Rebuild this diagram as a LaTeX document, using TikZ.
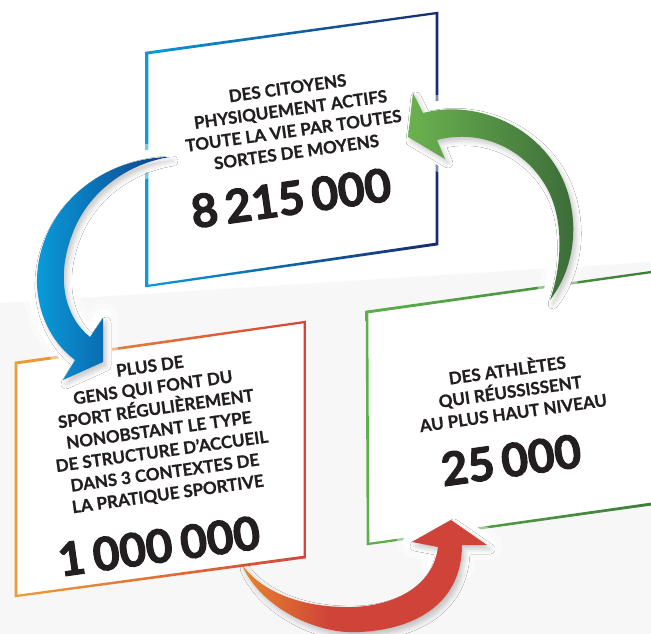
\documentclass[tikz,border=0pt]{standalone}
\usepackage{fontspec}
\setmainfont{Lato}[BoldFeatures={FakeBold=0.8}]
\newfontfamily\numfont{Lato}[BoldFeatures={FakeBold=2.4}]
\usetikzlibrary{calc,shadows.blur}

\definecolor{citblue}{HTML}{0B9AD8}
\definecolor{citnavy}{HTML}{172A6E}
\definecolor{arrblue}{HTML}{0A9CDA}
\definecolor{arrnavy}{HTML}{0B3D88}
\definecolor{sporange}{HTML}{EE9C35}
\definecolor{spred}{HTML}{D4443B}
\definecolor{arrorange}{HTML}{E5842C}
\definecolor{arrred}{HTML}{CF4339}
\definecolor{athgreen}{HTML}{5CB14A}
\definecolor{athdark}{HTML}{3C7839}
\definecolor{arrgreen}{HTML}{6BB24F}
\definecolor{arrdark}{HTML}{3A6A38}
\definecolor{inktext}{HTML}{231F20}
\definecolor{floorgray}{HTML}{F7F7F7}

\pgfdeclarehorizontalshading{redsweep}{100bp}{color(0bp)=(arrorange); color(25bp)=(arrorange); color(43bp)=(arrred); color(100bp)=(arrred)}

% frame of a slanted box, filled as a ring so it can take a gradient
\newcommand\framering[3]{%
  \shade[left color=#2, right color=#3, even odd rule]
    ($(#1-tl)+(-1.3,-1.3)$) -- ($(#1-tr)+(1.3,-1.3)$) -- ($(#1-br)+(1.3,1.3)$) -- ($(#1-bl)+(-1.3,1.3)$) -- cycle
    ($(#1-tl)+(1.3,1.3)$) -- ($(#1-tr)+(-1.3,1.3)$) -- ($(#1-br)+(-1.3,-1.3)$) -- ($(#1-bl)+(1.3,-1.3)$) -- cycle;}

% arrow outlines
\def\bluepath{(170,157) .. controls (95,158) and (35,215) .. (37,285) .. controls (39,320) and (55,345) .. (75,360) -- (63,380) -- (103,362) -- (103,318) -- (90,337) .. controls (66,318) and (55,280) .. (72,235) .. controls (88,190) and (130,163) .. (170,157) -- cycle}
\def\greenpath{(423,113) .. controls (480,98) and (547,130) .. (567,190) .. controls (580,230) and (572,272) .. (550,300) .. controls (562,265) and (564,222) .. (548,190) .. controls (527,150) and (482,128) .. (437,140) -- (445,159) -- (408,137) -- (413,93) -- cycle}
\def\redpath{(242,565) .. controls (262,610) and (320,635) .. (360,632) .. controls (420,629) and (462,600) .. (462,545) -- (487,545) -- (451,520) -- (412,542) -- (438,547) .. controls (433,588) and (392,606) .. (352,607) .. controls (302,608) and (262,592) .. (242,565) -- cycle}
\def\redhead{(462,545) -- (487,545) -- (451,520) -- (412,542) -- (438,547) -- (436,565) -- (460,565) -- cycle}

\tikzset{
  boxtext/.style={font=\bfseries\fontsize{17}{21.5}\selectfont, text=inktext, align=center, rotate=8, inner sep=0pt},
  bignum/.style={font=\numfont\bfseries\fontsize{46}{46}\selectfont, text=inktext, rotate=8, inner sep=0pt},
  haloouter/.style={draw=white, fill=white, line width=30pt, opacity=0.45, line join=round},
  haloinner/.style={draw=white, fill=white, line width=18pt, line join=round},
  arrowshadow/.style={blur shadow={shadow xshift=3pt, shadow yshift=-4pt, shadow blur radius=5pt, shadow opacity=22}},
}

\begin{document}
\begin{tikzpicture}[x=1pt, y=-1pt]
  \useasboundingbox (0,0) rectangle (651,634);
  \clip (0,0) rectangle (651,634);
  % background
  \fill[white] (0,0) rectangle (651,634);
  \fill[floorgray] (0,303) -- (651,262) -- (651,634) -- (0,634) -- cycle;

  % box corners
  \coordinate (cit-tl) at (147,53);
  \coordinate (cit-tr) at (437,13);
  \coordinate (cit-br) at (437,244);
  \coordinate (cit-bl) at (147,286);
  \coordinate (spo-tl) at (16,363);
  \coordinate (spo-tr) at (305,322);
  \coordinate (spo-br) at (305,557);
  \coordinate (spo-bl) at (16,596);
  \coordinate (ath-tl) at (367,312);
  \coordinate (ath-tr) at (680,268);
  \coordinate (ath-br) at (680,500);
  \coordinate (ath-bl) at (368,544);

  % box faces and frames
  \fill[white] (cit-tl) -- (cit-tr) -- (cit-br) -- (cit-bl) -- cycle;
  \fill[white] (spo-tl) -- (spo-tr) -- (spo-br) -- (spo-bl) -- cycle;
  \fill[white] (ath-tl) -- (ath-tr) -- (ath-br) -- (ath-bl) -- cycle;
  \framering{cit}{citblue}{citnavy}
  \framering{spo}{sporange}{spred}
  \framering{ath}{athgreen}{athdark}

  % white halo where the arrows cross the frames
  \path[haloouter] \bluepath;
  \path[haloouter] \greenpath;
  \path[haloouter] \redhead;
  \path[haloinner] \bluepath;
  \path[haloinner] \greenpath;
  \path[haloinner] \redhead;

  % arrows
  \shade[arrowshadow, left color=arrblue, right color=arrnavy] \bluepath;
  \shade[arrowshadow, left color=arrgreen, right color=arrdark] \greenpath;
  \shade[arrowshadow, shading=redsweep] \redpath;

  % texts
  \node[boxtext] (cit-text) at (292,120) {DES CITOYENS\\PHYSIQUEMENT ACTIFS\\TOUTE LA VIE PAR TOUTES\\SORTES DE MOYENS};
  \node[bignum] (cit-num) at (291,198) {8\hspace{0.16em}215\hspace{0.16em}000};
  \node[boxtext] (spo-text) at (159,431) {PLUS DE\\GENS QUI FONT DU\\SPORT RÉGULIÈREMENT\\NONOBSTANT LE TYPE\\DE STRUCTURE D’ACCUEIL\\DANS 3 CONTEXTES DE\\LA PRATIQUE SPORTIVE};
  \node[bignum] (spo-num) at (159,546) {1\hspace{0.18em}000\hspace{0.18em}000};
  \node[boxtext] (ath-text) at (510,390) {DES ATHLÈTES\\QUI RÉUSSISSENT\\AU PLUS HAUT NIVEAU};
  \node[bignum] (ath-num) at (511,460) {25\hspace{0.16em}000};
\end{tikzpicture}
\end{document}
